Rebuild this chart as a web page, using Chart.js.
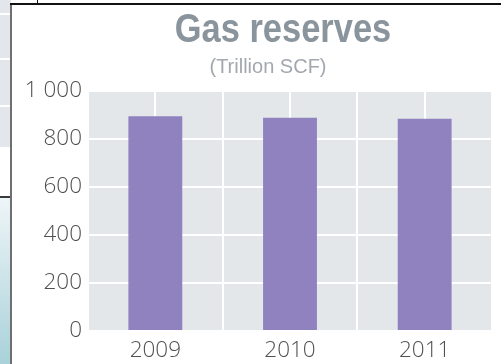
<!DOCTYPE html>
<html lang="en">
<head>
    <meta charset="UTF-8">
    <title>Gas reserves</title>
    <script src="https://cdn.jsdelivr.net/npm/chart.js"></script>
    <style>
        body {
            margin: 0;
            width: 501px;
            height: 364px;
            overflow: hidden;
            background: #ffffff;
            position: relative;
            font-family: 'Liberation Sans', sans-serif;
        }
        /* bits of the neighbouring page on the left of the scan */
        .side-top {
            position: absolute; left: 0; top: 0; width: 11px; height: 147px;
            background: linear-gradient(#e3e7eb 0 13px, #fff 13px 15px, #e3e7eb 15px 58px,
                #fff 58px 60px, #e3e7eb 60px 105px, #fff 105px 107px, #e3e7eb 107px);
        }
        .side-bottom {
            position: absolute; left: 0; top: 196px; width: 11px; height: 168px;
            border-top: 2px solid #3a3a3a;
            background: linear-gradient(#eef5f8, #a9d1d9);
        }
        .frame-left {
            position: absolute; left: 10px; top: 3px; width: 2px; height: 361px;
            background: #6f6f6f;
        }
        .frame-top {
            position: absolute; left: 10px; top: 3px; right: 0; height: 2px;
            background: #111;
        }
        .frame-tick {
            position: absolute; left: 37px; top: 0; width: 1px; height: 4px;
            background: #111;
        }
        .title {
            position: absolute; left: 83px; width: 400px; top: 5px;
            text-align: center; white-space: nowrap;
            font-weight: bold; font-size: 41px; line-height: 46px; color: #8a949c;
            transform: scaleX(0.84);
        }
        .subtitle {
            position: absolute; left: 68px; width: 400px; top: 55px;
            text-align: center; white-space: nowrap;
            font-size: 20px; line-height: 22px; color: #a2a8ae;
        }
        #chart-box {
            position: absolute; left: 12px; top: 0; width: 489px; height: 364px;
        }
    </style>
</head>
<body>
    <div class="side-top"></div>
    <div class="side-bottom"></div>
    <div class="frame-left"></div>
    <div class="frame-top"></div>
    <div class="frame-tick"></div>
    <div id="chart-box">
        <canvas id="gasChart"></canvas>
    </div>
    <div class="title">Gas reserves</div>
    <div class="subtitle">(Trillion SCF)</div>

    <script>
        const years = ['2009', '2010', '2011'];
        const reserves = [895, 889, 884];
        const yTicks = [0, 200, 400, 600, 800, 1000];

        // grey plot background
        const plotBackground = {
            id: 'plotBackground',
            beforeDraw(chart) {
                const { ctx, chartArea } = chart;
                ctx.save();
                ctx.fillStyle = '#e4e7ea';
                ctx.fillRect(chartArea.left, chartArea.top, chartArea.right - chartArea.left, chartArea.bottom - chartArea.top);
                ctx.restore();
            }
        };

        const tickFont = { family: "'Open Sans', sans-serif", size: 22.5, weight: 300 };

        new Chart(document.getElementById('gasChart'), {
            type: 'bar',
            data: {
                labels: years,
                datasets: [{
                    data: reserves,
                    backgroundColor: '#8f82bf',
                    categoryPercentage: 1,
                    barPercentage: 0.4
                }]
            },
            options: {
                responsive: true,
                maintainAspectRatio: false,
                animation: false,
                layout: { padding: { top: 91, right: 9, left: 0, bottom: 0 } },
                plugins: {
                    legend: { display: false },
                    tooltip: { enabled: false }
                },
                scales: {
                    x: {
                        grid: { offset: true, color: '#ffffff', lineWidth: 2, drawTicks: false },
                        border: { display: false },
                        ticks: { color: '#505050', font: tickFont, padding: 6 },
                        afterFit(scale) { scale.height = 33; }
                    },
                    x2: {
                        type: 'category',
                        labels: years,
                        position: 'bottom',
                        grid: { offset: false, color: '#ffffff', lineWidth: 2, drawTicks: false },
                        border: { display: false },
                        ticks: { display: false },
                        afterFit(scale) { scale.height = 0; }
                    },
                    y: {
                        min: 0,
                        max: 1000,
                        afterBuildTicks(scale) { scale.ticks = yTicks.map(v => ({ value: v })); },
                        grid: { color: '#ffffff', lineWidth: 2, drawTicks: false },
                        border: { display: false },
                        ticks: {
                            color: '#505050',
                            font: tickFont,
                            padding: 6,
                            callback: v => v === 1000 ? '1 000' : String(v)
                        },
                        afterFit(scale) { scale.width = 76; }
                    }
                }
            },
            plugins: [plotBackground]
        });
    </script>
</body>
</html>
